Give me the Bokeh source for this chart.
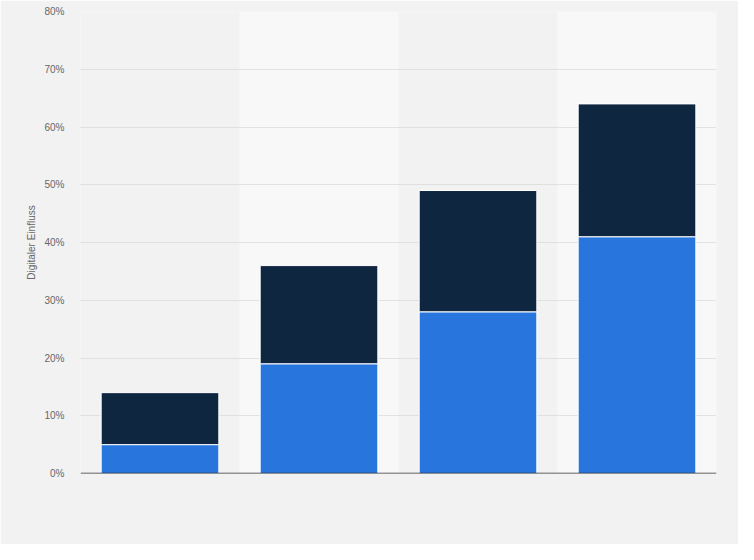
from bokeh.plotting import figure
from bokeh.models import FixedTicker, PrintfTickFormatter, Span, Range1d
from bokeh.embed import file_html
from bokeh.resources import INLINE

# Data (values in %)
categories = ["1", "2", "3", "4"]
blue_values = [5, 19, 28, 41]
dark_values = [9, 17, 21, 23]
band_categories = ["2", "4"]
y_ticks = [0, 10, 20, 30, 40, 50, 60, 70, 80]
y_label = "Digitaler Einfluss"

BG = "#f2f2f2"
BAND = "#f8f8f8"
BLUE = "#2876dd"
DARK = "#0f2640"
FONT = "Liberation Sans"

p = figure(x_range=categories, width=738, height=544, output_backend="svg",
           toolbar_location=None, tools="")
p.y_range = Range1d(0, y_ticks[-1])
p.min_border_left = 80
p.min_border_right = 22
p.min_border_top = 11
p.min_border_bottom = 71
p.background_fill_color = BG
p.border_fill_color = BG
p.outline_line_color = None

# alternating bands
band_tops = [y_ticks[-1]] * len(band_categories)
p.vbar(x=band_categories, top=band_tops, bottom=0, width=1.0,
       fill_color=BAND, line_color=None, level="image")

data = {"cat": categories, "blue": blue_values, "dark": dark_values}
p.vbar_stack(["blue", "dark"], x="cat", source=data, width=0.74,
             color=[BLUE, DARK], line_color="white", line_width=1)

# axes
p.xaxis.visible = False
p.xgrid.visible = False
p.ygrid.grid_line_color = "#cccccc"
p.ygrid.grid_line_dash = "1 1"
p.ygrid.grid_line_width = 1

ya = p.yaxis[0]
ya.ticker = FixedTicker(ticks=y_ticks)
ya.formatter = PrintfTickFormatter(format="%d%%")
ya.axis_line_color = None
ya.major_tick_line_color = None
ya.minor_tick_line_color = None
ya.major_tick_out = 0
ya.major_label_standoff = 16
ya.major_label_text_font = FONT
ya.major_label_text_font_size = "10px"
ya.major_label_text_color = "#666666"
ya.axis_label = y_label
ya.axis_label_text_font = FONT
ya.axis_label_text_font_size = "10px"
ya.axis_label_text_font_style = "normal"
ya.axis_label_text_color = "#666666"
ya.axis_label_standoff = 4

p.add_layout(Span(location=0, dimension="width", line_color="#333333", line_width=1.5))

html = file_html(p, INLINE)
html = html.replace("<body>", '<body style="background:%s">' % BG, 1)
open("out.html", "w").write(html)
